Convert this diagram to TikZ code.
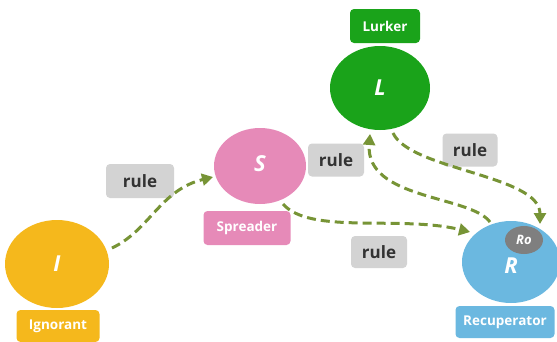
\documentclass[tikz,border=0pt]{standalone}
\usepackage{fontspec}
\setmainfont{Open Sans}
\usetikzlibrary{arrows.meta}
\definecolor{cI}{HTML}{F5B81C}
\definecolor{cS}{HTML}{E68AB8}
\definecolor{cL}{HTML}{1AA31A}
\definecolor{cR}{HTML}{6BB8E0}
\definecolor{cRo}{HTML}{7F7F7F}
\definecolor{cRule}{HTML}{D3D3D3}
\definecolor{cArr}{HTML}{779436}
\definecolor{cTxt}{HTML}{333333}
\begin{document}
\begin{tikzpicture}[x=1pt,y=-1pt,
  letter/.style={text=white, font=\bfseries\itshape\fontsize{22}{22}\selectfont},
  tag/.style={rounded corners=4pt, fill=#1, text=white, inner sep=0pt, font=\bfseries\fontsize{13.5}{13.5}\selectfont},
  rulebox/.style={rounded corners=4pt, fill=cRule, text=cTxt, inner sep=0pt, font=\bfseries\fontsize{17}{17}\selectfont},
  flow/.style={draw=cArr, line width=3pt, dash pattern=on 9pt off 5pt, -{Triangle[length=11pt,width=12pt]}}]
\useasboundingbox (0,0) rectangle (557,341);
% states
\fill[cI] (57,264) ellipse [x radius=52, y radius=44];
\node[letter] (I) at (57,264) {I};
\fill[cS] (260,166) ellipse [x radius=46, y radius=38];
\node[letter] (S) at (260,164) {S};
\fill[cL] (380,88) ellipse [x radius=50, y radius=42];
\node[letter] (L) at (380,88) {L};
\fill[cR] (511,262) ellipse [x radius=49, y radius=41];
\node[letter] (R) at (511,266) {R};
\fill[cRo] (524,240) ellipse [x radius=19, y radius=14];
\node[text=white, font=\bfseries\itshape\fontsize{13}{13}\selectfont] (Ro) at (524,240) {Ro};
% tags
\node[tag=cI, minimum width=83, minimum height=32] (tI) at (58,326) {Ignorant};
\node[tag=cS, minimum width=87, minimum height=34] (tS) at (247,228) {Spreader};
\node[tag=cL, minimum width=70, minimum height=34] (tL) at (385,26) {Lurker};
\node[tag=cR, minimum width=99, minimum height=32] (tR) at (505,322) {Recuperator};
% rule boxes
\node[rulebox, minimum width=68, minimum height=34] (r1) at (140,181) {rule};
\node[rulebox, minimum width=56, minimum height=33] (r2) at (336,160) {rule};
\node[rulebox, minimum width=55, minimum height=33] (r3) at (470,150) {rule};
\node[rulebox, minimum width=56, minimum height=32] (r4) at (379,252) {rule};
% anchor points for arrows
\coordinate (a1s) at (112,248);
\coordinate (a1e) at (213,177);
\coordinate (a2s) at (283,204);
\coordinate (a2e) at (470,232);
\coordinate (a3s) at (490,222);
\coordinate (a3e) at (370,134);
\coordinate (a4s) at (393,133);
\coordinate (a4e) at (540,224);
\draw[flow] (a1s) .. controls (150,230) and (160,190) .. (a1e);
\draw[flow] (a2s) .. controls (310,235) and (400,215) .. (a2e);
\draw[flow] (a3s) .. controls (470,195) and (365,200) .. (a3e);
\draw[flow] (a4s) .. controls (410,170) and (540,175) .. (a4e);
\end{tikzpicture}
\end{document}
